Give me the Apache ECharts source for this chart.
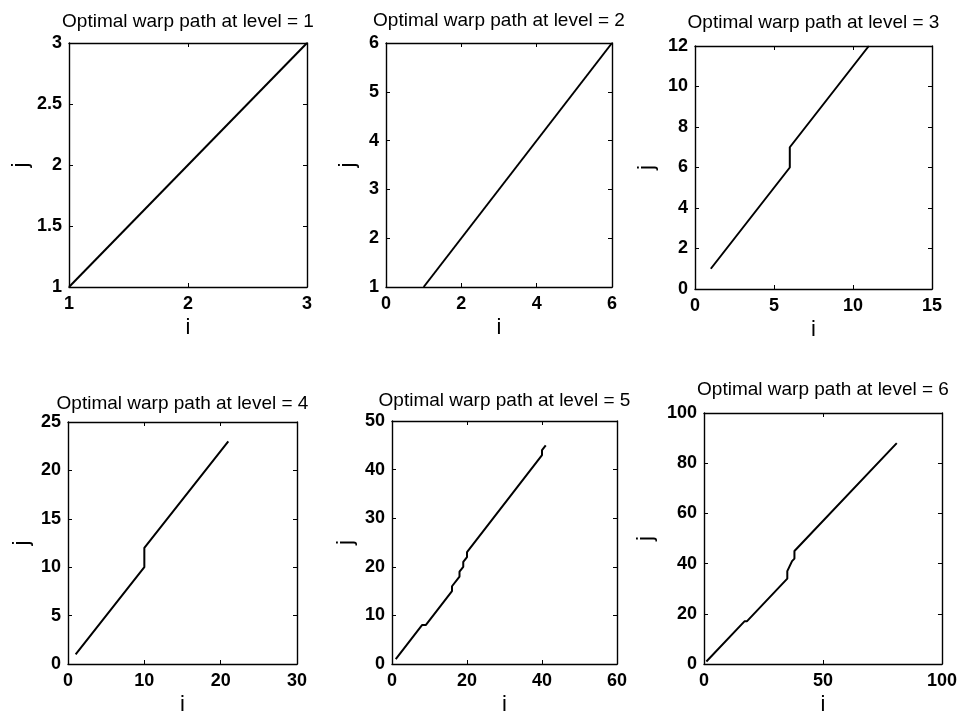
<!DOCTYPE html>
<html>
<head>
<meta charset="utf-8">
<script src="https://cdn.jsdelivr.net/npm/echarts@6/dist/echarts.min.js"></script>
<style>
  html, body { margin: 0; padding: 0; background: #fff; }
  #chart { width: 960px; height: 717px; }
</style>
</head>
<body>
<div id="chart"></div>
<script>
// Warp path corner points (i, j) for each level; straight runs lie between them.
const level1I = [1, 3];
const level1J = [1, 3];
const level2I = [1, 6];
const level2J = [1, 6];
const level3I = [1, 6, 6, 11];
const level3J = [1, 6, 7, 12];
const level4I = [1, 10, 10, 21];
const level4J = [1, 10, 12, 23];
const level5I = [1, 8, 9, 16, 16, 18, 18, 19, 19, 20, 20, 40, 40, 41];
const level5J = [1, 8, 8, 15, 16, 18, 19, 20, 21, 22, 23, 43, 44, 45];
const level6I = [1, 17, 18, 35, 35, 36, 37, 38, 38, 39, 41, 81];
const level6J = [1, 17, 17, 34, 37, 39, 41, 42, 45, 46, 48, 88];

// Tick values along each axis
const xTicks1 = [1, 2, 3];        const yTicks1 = [1, 1.5, 2, 2.5, 3];
const xTicks2 = [0, 2, 4, 6];     const yTicks2 = [1, 2, 3, 4, 5, 6];
const xTicks3 = [0, 5, 10, 15];   const yTicks3 = [0, 2, 4, 6, 8, 10, 12];
const xTicks4 = [0, 10, 20, 30];  const yTicks4 = [0, 5, 10, 15, 20, 25];
const xTicks5 = [0, 20, 40, 60];  const yTicks5 = [0, 10, 20, 30, 40, 50];
const xTicks6 = [0, 50, 100];     const yTicks6 = [0, 20, 40, 60, 80, 100];

const levels = [1, 2, 3, 4, 5, 6];
const pathsI = [level1I, level2I, level3I, level4I, level5I, level6I];
const pathsJ = [level1J, level2J, level3J, level4J, level5J, level6J];
const xTicks = [xTicks1, xTicks2, xTicks3, xTicks4, xTicks5, xTicks6];
const yTicks = [yTicks1, yTicks2, yTicks3, yTicks4, yTicks5, yTicks6];

// Plot box placement [left, top, width, height], title baseline and y-name offset per panel
const boxes = [
  [69, 43, 238, 244],
  [386, 43, 226, 244],
  [695, 46, 237, 243],
  [68, 422, 229, 244],
  [392, 421, 225, 245],
  [704, 413, 238, 251]
];
const titleBaselines = [28, 27, 29, 410, 407, 396];
const yNameGaps = [37, 27, 37, 35, 35, 47];

const FONT = '"Liberation Sans", Arial, Helvetica, sans-serif';

const grid = [], xAxis = [], yAxis = [], series = [], title = [];

function axisRange(ticks) {
  return { min: ticks[0], max: ticks[ticks.length - 1], interval: ticks[1] - ticks[0] };
}

boxes.forEach((b, k) => {
  grid.push({ left: b[0], top: b[1], width: b[2], height: b[3], containLabel: false });
  const xr = axisRange(xTicks[k]);
  const yr = axisRange(yTicks[k]);
  const common = {
    gridIndex: k,
    type: 'value',
    splitLine: { show: false },
    axisLine: { show: true, onZero: false, lineStyle: { color: '#000', width: 1.4 } },
    axisTick: { show: true, inside: true, length: 4, lineStyle: { color: '#000', width: 1 } }
  };
  xAxis.push(Object.assign({}, common, {
    position: 'bottom', min: xr.min, max: xr.max, interval: xr.interval,
    name: 'i', nameLocation: 'middle', nameGap: 30,
    nameTextStyle: { fontFamily: FONT, fontSize: 22, color: '#000' },
    axisLabel: { show: true, color: '#000', fontFamily: FONT, fontSize: 18, fontWeight: 'bold', margin: 8 }
  }));
  xAxis.push(Object.assign({}, common, {
    position: 'top', min: xr.min, max: xr.max, interval: xr.interval,
    axisLabel: { show: false }
  }));
  yAxis.push(Object.assign({}, common, {
    position: 'left', min: yr.min, max: yr.max, interval: yr.interval,
    name: 'j', nameLocation: 'middle', nameGap: yNameGaps[k],
    nameTextStyle: { fontFamily: FONT, fontSize: 22, color: '#000' },
    axisLabel: { show: true, color: '#000', fontFamily: FONT, fontSize: 18, fontWeight: 'bold', margin: 7 }
  }));
  yAxis.push(Object.assign({}, common, {
    position: 'right', min: yr.min, max: yr.max, interval: yr.interval,
    axisLabel: { show: false }
  }));
  series.push({
    type: 'line',
    xAxisIndex: 2 * k,
    yAxisIndex: 2 * k,
    data: pathsI[k].map((v, n) => [v, pathsJ[k][n]]),
    showSymbol: false,
    symbol: 'none',
    lineStyle: { color: '#000', width: 2 },
    animation: false
  });
  title.push({
    text: 'Optimal warp path at level = ' + levels[k],
    left: b[0] + b[2] / 2,
    top: titleBaselines[k] - 16,
    padding: 0,
    textAlign: 'center',
    textStyle: { fontFamily: FONT, fontSize: 19, fontWeight: 'normal', color: '#000' }
  });
});

const chart = echarts.init(document.getElementById('chart'), null, { renderer: 'canvas' });
chart.setOption({
  animation: false,
  backgroundColor: '#fff',
  title, grid, xAxis, yAxis, series
});
</script>
</body>
</html>
